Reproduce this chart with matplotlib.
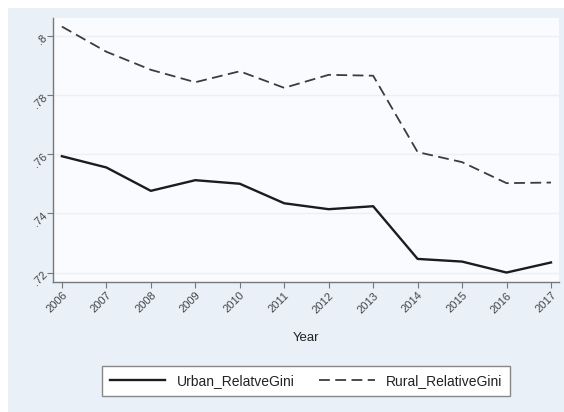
import matplotlib
matplotlib.use("Agg")
import matplotlib.pyplot as plt

# ── Data ─────────────────────────────────────────────────────────────────────
years = [2006, 2007, 2008, 2009, 2010, 2011, 2012, 2013, 2014, 2015, 2016, 2017]
urban = [0.7593, 0.7555, 0.7476, 0.7512, 0.7500, 0.7434, 0.7414, 0.7424,
         0.7246, 0.7237, 0.7200, 0.7234]
rural = [0.8031, 0.7946, 0.7885, 0.7843, 0.7880, 0.7824, 0.7868, 0.7865,
         0.7607, 0.7573, 0.7502, 0.7504]
yticks = [0.72, 0.74, 0.76, 0.78, 0.80]
ytick_labels = [".72", ".74", ".76", ".78", ".8"]

plt.rcParams["font.family"] = ["Liberation Sans", "DejaVu Sans"]

OUTER = "#EAF0F8"
INNER = "#F9FBFE"
TEXT = "#444444"

fig = plt.figure(figsize=(5.64, 4.12), dpi=100)
fig.patch.set_facecolor("white")

# Stata-style outer region (white margin top/left), kept behind the plot
bg = fig.add_axes([8 / 564, 0, 556 / 564, 404 / 412], zorder=-5)
bg.set_facecolor(OUTER)
bg.set_xticks([])
bg.set_yticks([])
for s in bg.spines.values():
    s.set_visible(False)

ax = fig.add_axes([53 / 564, 130 / 412, 506 / 564, 264 / 412])
ax.set_facecolor(INNER)

for y in yticks:
    ax.axhline(y, color="#EAF0F6", linewidth=1.0, zorder=1)

ax.plot(years, urban, color="#1c1c1c", linewidth=1.7, label="Urban_RelatveGini", zorder=3)
ax.plot(years, rural, color="#3c3c3c", linewidth=1.3, linestyle=(0, (6, 3)),
        label="Rural_RelativeGini", zorder=3)

ax.set_xlim(2005.8, 2017.18)
ax.set_ylim(0.7168, 0.806)

ax.set_xticks(years)
ax.set_xticklabels([str(y) for y in years], rotation=45, ha="right",
                   rotation_mode="anchor", fontsize=8, color=TEXT)
ax.set_yticks(yticks)
ax.set_yticklabels(ytick_labels, rotation=45, ha="right", rotation_mode="anchor",
                   fontsize=8, color=TEXT)
ax.tick_params(axis="both", length=4, width=0.8, color="#777777", pad=2)

for side in ["top", "right"]:
    ax.spines[side].set_visible(False)
for side in ["left", "bottom"]:
    ax.spines[side].set_color("#777777")
    ax.spines[side].set_linewidth(1.0)

ax.set_xlabel("Year", fontsize=9.5, color="#222222", labelpad=12)

leg = fig.legend(loc="center", bbox_to_anchor=(306 / 564, 31 / 412), ncol=2,
                 fontsize=10, frameon=True, fancybox=False, handlelength=4.0,
                 columnspacing=1.8, handletextpad=0.8, borderpad=0.55)
leg.get_frame().set_edgecolor("#888888")
leg.get_frame().set_facecolor("white")
leg.get_frame().set_alpha(1)
for t in leg.get_texts():
    t.set_color("#222222")

fig.savefig("out.png", dpi=100, facecolor=fig.get_facecolor())
